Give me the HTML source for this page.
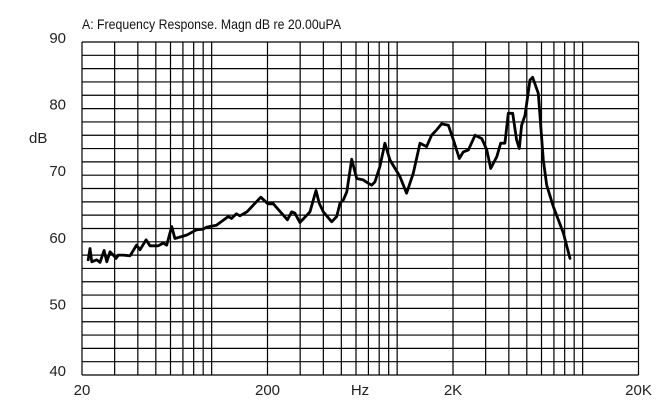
<!DOCTYPE html>
<html><head><meta charset="utf-8"><style>
body{margin:0;background:#fff;width:671px;height:410px;overflow:hidden}
svg{display:block;font-family:"Liberation Sans",sans-serif}
</style></head><body>
<svg id="chart" width="671" height="410" viewBox="0 0 671 410">
<text x="82" y="29" font-size="14" transform="translate(82,0) scale(0.88,1) translate(-82,0)" fill="#111">A: Frequency Response. Magn dB re 20.00uPA</text>
<text x="29" y="143" font-size="15" fill="#222">dB</text>
<text x="360" y="395" font-size="15" fill="#222" text-anchor="middle">Hz</text>
<g id="grid"></g>
<g id="labels"></g>
<path id="curve" fill="none" stroke="#000" stroke-width="2.8" stroke-linejoin="round" stroke-linecap="round"/>
</svg>
<script>
const freqs=[21.6,22.1,22.6,24,25,26.3,27.2,28.3,29.5,30.5,31.4,33.4,36.3,39.4,41.1,44.3,46.5,51.5,54.8,57.2,60.9,63.4,73.3,83,90.2,94,106,123,128,136,142,155,184,201,215,256,270,281,299,339,365,380,400,444,472,492,513,535,569,605,656,698,729,759,807,859,914,1035,1125,1222,1327,1442,1534,1632,1737,1888,2009,2164,2274,2420,2630,2858,3041,3193,3445,3614,3811,3972,4196,4406,4555,4688,4887,5200,5370,5768,6138,6400,6950,7870,8550];
const dbs=[57.3,59.0,57.0,57.3,56.9,58.7,57.0,58.5,58.0,57.5,58.0,58.0,57.9,59.5,58.8,60.3,59.4,59.4,59.8,59.5,62.3,60.5,61.0,61.8,61.9,62.2,62.5,63.8,63.5,64.2,63.9,64.5,66.7,65.7,65.7,63.3,64.5,64.3,62.9,64.5,67.7,65.8,64.5,63.0,63.8,65.8,66.3,67.5,72.4,69.5,69.3,68.8,68.5,69.0,71.3,74.8,72.3,69.8,67.3,70.3,74.8,74.3,76.0,76.8,77.7,77.5,75.3,72.5,73.5,73.8,76.0,75.5,73.8,71.0,72.8,74.8,74.8,79.3,79.3,75.3,74.0,77.5,79.0,84.3,84.7,82.3,72.3,68.5,65.3,61.3,57.5];
const yTicks=[90,80,70,60,50,40];
const xTickLabels=["20","200","2K","20K"];
const xTickValues=[20,200,2000,20000];
const gridFreqs=[20,30,40,50,60,70,80,90,100,200,300,400,500,600,700,800,900,1000,2000,3000,4000,5000,6000,7000,8000,9000,10000,20000];
const L=82,R=638.5,T=42,B=375,fMin=20,fMax=20000,dMin=40,dMax=90;
const X=f=>L+(Math.log10(f/fMin)/Math.log10(fMax/fMin))*(R-L);
const Y=d=>B-(d-dMin)/(dMax-dMin)*(B-T);
const NS="http://www.w3.org/2000/svg";
const grid=document.getElementById('grid'),labels=document.getElementById('labels');
function line(x1,y1,x2,y2,name){const l=document.createElementNS(NS,'line');
l.setAttribute('x1',x1);l.setAttribute('y1',y1);l.setAttribute('x2',x2);l.setAttribute('y2',y2);
l.setAttribute('stroke','#000');l.setAttribute('stroke-width','1.2');


grid.appendChild(l);}
for(let d=dMin;d<=dMax;d+=2){line(L,Y(d),R,Y(d),'h-gridline');}
gridFreqs.forEach(f=>{line(X(f),T,X(f),B,'v-gridline');});
yTicks.forEach(v=>{const t=document.createElementNS(NS,'text');
t.setAttribute('x',66);t.setAttribute('y',Y(v)+1);t.setAttribute('text-anchor','end');t.setAttribute('font-size','15');t.setAttribute('fill','#222');


t.textContent=v;labels.appendChild(t);});
xTickValues.forEach((v,i)=>{const t=document.createElementNS(NS,'text');
t.setAttribute('x',X(v));t.setAttribute('y',395);t.setAttribute('text-anchor','middle');t.setAttribute('font-size','15');t.setAttribute('fill','#222');


t.textContent=xTickLabels[i];labels.appendChild(t);});
document.getElementById('curve').setAttribute('d',freqs.map((f,i)=>(i?'L':'M')+X(f).toFixed(1)+','+Y(dbs[i]).toFixed(1)).join(''));
</script>
</body></html>
